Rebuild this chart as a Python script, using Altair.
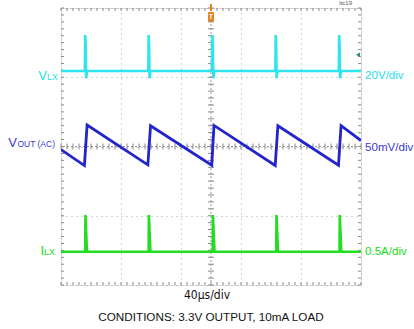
import altair as alt
import pandas as pd
import numpy as np

# Time axis: microseconds (40 us/div, 10 div). Amplitude: screen divisions from bottom (8 div).
vlx_t = [0, 31.8, 32.3, 32.9, 33.5, 34.6,
         116.4, 116.9, 117.5, 118.1, 119.2,
         201.4, 201.9, 202.5, 203.1, 204.2,
         285.8, 286.3, 286.9, 287.5, 288.6,
         370.4, 370.9, 371.5, 372.1, 373.2, 400]
vlx_v = [6.18, 6.18, 7.22, 6.9, 5.97, 6.18,
         6.18, 7.22, 6.9, 5.97, 6.18,
         6.18, 7.22, 6.9, 5.97, 6.18,
         6.18, 7.22, 6.9, 5.97, 6.18,
         6.18, 7.22, 6.9, 5.97, 6.18, 6.18]

vout_t = [0, 31.2, 34.8, 115.8, 119.4, 201.0, 204.0, 285.6, 289.2, 370.0, 373.4, 400]
vout_v = [3.91, 3.45, 4.62, 3.47, 4.60, 3.46, 4.61, 3.45, 4.60, 3.46, 4.60, 4.17]

ilx_t = [0, 32.3, 32.6, 34.6,
         116.9, 117.2, 119.2,
         202.3, 202.6, 204.6,
         287.0, 287.3, 289.3,
         371.4, 371.7, 373.7, 400]
ilx_v = [0.96, 0.96, 2.02, 0.96,
         0.96, 2.02, 0.96,
         0.96, 2.02, 0.96,
         0.96, 2.02, 0.96,
         0.96, 2.02, 0.96, 0.96]

trace_names = ["VLX", "VOUT", "ILX"]
trace_levels = [6.18, 4.0, 0.96]
trace_colors = ["#2ee4ee", "#2424cc", "#22dd22"]
label_colors = ["#22e0ee", "#3a3acc", "#18dd18"]
scale_labels = ["20V/div", "50mV/div", "0.5A/div"]
main_letters = ["V", "V", "I"]
sub_letters = ["LX", "OUT (AC)", "LX"]
x_title = "40\u00b5s/div"
conditions = "CONDITIONS: 3.3V OUTPUT, 10mA LOAD"
trigger_time = 200
trigger_level = 6.65

W, H = 300, 277
FONT = "Liberation Sans"
NARROW = "Liberation Sans Narrow, DejaVu Sans Condensed, Liberation Sans, sans-serif"

xs = alt.Scale(domain=[0, 400], nice=False, zero=False)
ys = alt.Scale(domain=[0, 8], nice=False, zero=False)

def trace_df(t, v):
    return pd.DataFrame({"t": t, "v": v, "i": range(len(t))})

# grid (major divisions) via axes
grid_df = pd.DataFrame({"t": [0], "v": [0]})
grid = alt.Chart(grid_df).mark_point(opacity=0).encode(
    x=alt.X("t:Q", scale=xs, axis=alt.Axis(values=list(range(0, 401, 40)), grid=True,
            gridDash=[1, 4], gridColor="#a8a8a8", gridWidth=1, labels=False, ticks=False,
            domain=False, title=None)),
    y=alt.Y("v:Q", scale=ys, axis=alt.Axis(values=list(range(0, 9)), grid=True,
            gridDash=[1, 4], gridColor="#a8a8a8", gridWidth=1, labels=False, ticks=False,
            domain=False, title=None)),
)

# centre cross lines
cx = alt.Chart(pd.DataFrame({"t": [trigger_time]})).mark_rule(
    color="#9a9a9a", strokeWidth=1, strokeDash=[2, 2]).encode(x=alt.X("t:Q", scale=xs))
cy = alt.Chart(pd.DataFrame({"v": [4.0]})).mark_rule(
    color="#9a9a9a", strokeWidth=1, strokeDash=[2, 2]).encode(y=alt.Y("v:Q", scale=ys))

minor_t = pd.DataFrame({"t": np.arange(0, 400.1, 8)})
minor_v = pd.DataFrame({"v": np.arange(0, 8.01, 0.2)})
tick_col = "#8a8a8a"
ticks_hc = alt.Chart(minor_t).mark_rule(color=tick_col, strokeWidth=1).encode(
    x=alt.X("t:Q", scale=xs), y=alt.value(H / 2 - 3), y2=alt.value(H / 2 + 3))
ticks_vc = alt.Chart(minor_v).mark_rule(color=tick_col, strokeWidth=1).encode(
    y=alt.Y("v:Q", scale=ys), x=alt.value(W / 2 - 3), x2=alt.value(W / 2 + 3))
ticks_top = alt.Chart(minor_t).mark_rule(color=tick_col, strokeWidth=1).encode(
    x=alt.X("t:Q", scale=xs), y=alt.value(0), y2=alt.value(3))
ticks_bot = alt.Chart(minor_t).mark_rule(color=tick_col, strokeWidth=1).encode(
    x=alt.X("t:Q", scale=xs), y=alt.value(H - 3), y2=alt.value(H))
ticks_left = alt.Chart(minor_v).mark_rule(color=tick_col, strokeWidth=1).encode(
    y=alt.Y("v:Q", scale=ys), x=alt.value(0), x2=alt.value(3))
ticks_right = alt.Chart(minor_v).mark_rule(color=tick_col, strokeWidth=1).encode(
    y=alt.Y("v:Q", scale=ys), x=alt.value(W - 3), x2=alt.value(W))

def trace(t, v, color, sw=2.6):
    return alt.Chart(trace_df(t, v)).mark_line(color=color, strokeWidth=sw, clip=True).encode(
        x=alt.X("t:Q", scale=xs), y=alt.Y("v:Q", scale=ys), order="i:Q")

t_vlx = trace(vlx_t, vlx_v, trace_colors[0])
t_vout = trace(vout_t, vout_v, trace_colors[1], 2.8)
t_ilx = trace(ilx_t, ilx_v, trace_colors[2])

# labels
lab_df = pd.DataFrame({"name": trace_names, "v": trace_levels, "main": main_letters,
                       "sub": sub_letters, "scale": scale_labels, "color": label_colors})
left_dy = {"VLX": 8.5, "VOUT": 0.5, "ILX": 3.5}
right_dy = {"VLX": 8, "VOUT": 4.5, "ILX": 3.5}
main_x = {"VLX": -14, "VOUT": -44, "ILX": -17}
sub_x = {"VLX": -3, "VOUT": -6, "ILX": -6}
sub_size = {"VLX": 9, "VOUT": 8.5, "ILX": 9}

label_layers = []
for k, row in lab_df.iterrows():
    d = pd.DataFrame([row])
    n = row["name"]
    label_layers.append(alt.Chart(d).mark_text(
        align="right", baseline="alphabetic", dy=left_dy[n], fontSize=13, font=FONT,
        color=row["color"]).encode(y=alt.Y("v:Q", scale=ys), x=alt.value(main_x[n]), text="main:N"))
    label_layers.append(alt.Chart(d).mark_text(
        align="right", baseline="alphabetic", dy=left_dy[n], fontSize=sub_size[n], font=FONT,
        color=row["color"]).encode(y=alt.Y("v:Q", scale=ys), x=alt.value(sub_x[n]), text="sub:N"))
    label_layers.append(alt.Chart(d).mark_text(
        align="left", baseline="alphabetic", dy=right_dy[n], fontSize=11.6, font=FONT,
        color=row["color"]).encode(y=alt.Y("v:Q", scale=ys), x=alt.value(W + 4), text="scale:N"))

bottom_df = pd.DataFrame({"txt": [x_title, conditions], "t": [trigger_time, trigger_time]})
xlab = alt.Chart(bottom_df.iloc[[0]]).mark_text(
    align="center", baseline="alphabetic", fontSize=12, font=NARROW,
    color="#111111").encode(x=alt.value(146), y=alt.value(H + 14), text="txt:N")
cond = alt.Chart(bottom_df.iloc[[1]]).mark_text(
    align="center", baseline="alphabetic", fontSize=11.7, font=FONT,
    color="#111111").encode(x=alt.X("t:Q", scale=xs), y=alt.value(H + 35.5), text="txt:N")

ref = alt.Chart(pd.DataFrame({"txt": ["ltc19"]})).mark_text(
    align="right", baseline="alphabetic", fontSize=6, font=FONT, color="#555555").encode(
    x=alt.value(291), y=alt.value(-3), text="txt:N")

# trigger marker
trig_df = pd.DataFrame({"t": [trigger_time], "txt": ["T"]})
trig_stem = alt.Chart(trig_df).mark_rule(color="#e8801e", strokeWidth=2).encode(
    x=alt.X("t:Q", scale=xs), y=alt.value(-4), y2=alt.value(3))
trig_box = alt.Chart(trig_df).mark_point(
    shape="M-0.6,-0.8 Q-0.6,-1 -0.4,-1 L0.4,-1 Q0.6,-1 0.6,-0.8 L0.6,0.6 Q0.6,1 0,1 Q-0.6,1 -0.6,0.6 Z",
    filled=True, size=100, color="#e8801e", opacity=1).encode(
    x=alt.X("t:Q", scale=xs), y=alt.value(9))
trig_txt = alt.Chart(trig_df).mark_text(fontSize=7, fontWeight="bold", color="white", font=FONT,
                                        baseline="middle").encode(
    x=alt.X("t:Q", scale=xs), y=alt.value(9), text="txt:N")

lvl = alt.Chart(pd.DataFrame({"v": [trigger_level]})).mark_point(
    shape="triangle-left", filled=True, size=22, color="#2d8a80", opacity=1).encode(
    y=alt.Y("v:Q", scale=ys), x=alt.value(W - 3))

chart = alt.layer(
    grid, cx, cy, ticks_hc, ticks_vc, ticks_top, ticks_bot, ticks_left, ticks_right,
    t_vlx, t_vout, t_ilx, lvl, trig_stem, trig_box, trig_txt,
    *label_layers, xlab, cond, ref,
).properties(
    width=W, height=H,
    autosize=alt.AutoSizeParams(type="none"),
    padding={"left": 61, "top": 8, "right": 53, "bottom": 44},
    background="white",
).configure_view(stroke="#111111", strokeWidth=1.5).configure(font=FONT)

chart.save("out.html", embed_options={"renderer": "svg", "actions": False})
